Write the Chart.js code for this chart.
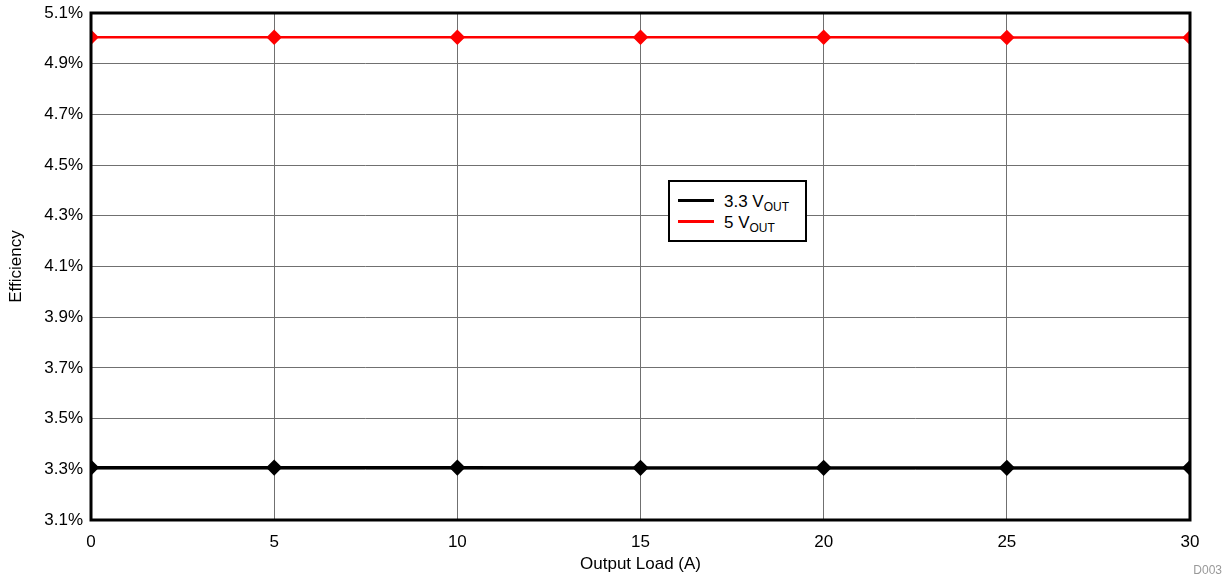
<!DOCTYPE html>
<html>
<head>
<meta charset="utf-8">
<script src="https://cdn.jsdelivr.net/npm/chart.js@4/dist/chart.umd.min.js"></script>
<style>
  body { margin: 0; background: #fff; font-family: "Liberation Sans", Arial, sans-serif; }
  #wrap { position: relative; width: 1228px; height: 580px; }
  #legend { position: absolute; left: 668px; top: 180px; width: 135px; height: 58px;
    border: 2px solid #000; background: #fff; font-size: 17px; line-height: 20px; color: #000; }
  .sw { position: absolute; left: 8px; width: 36px; height: 3px; }
  .tx { position: absolute; left: 54px; white-space: nowrap; }
  sub { font-size: 12px; vertical-align: -4px; line-height: 0; }
  #code { position: absolute; right: 6px; top: 563px; font-size: 12px; color: #999; }
</style>
</head>
<body>
<div id="wrap">
  <canvas id="chart" width="1228" height="580"></canvas>
  <div id="legend">
    <span class="sw" style="background:#000; top:17px"></span><span class="tx" style="top:10px">3.3 V<sub>OUT</sub></span>
    <span class="sw" style="background:#f00; top:38px"></span><span class="tx" style="top:31px">5 V<sub>OUT</sub></span>
  </div>
  <div id="code">D003</div>
</div>
<script>
const loads = [0, 5, 10, 15, 20, 25, 30];
const eff33 = [3.307, 3.307, 3.307, 3.306, 3.306, 3.306, 3.306];
const eff5 = [5.004, 5.004, 5.004, 5.004, 5.004, 5.003, 5.003];

const frame = {
  id: "frame",
  afterDatasetsDraw(chart) {
    const a = chart.chartArea, ctx = chart.ctx;
    ctx.save();
    ctx.strokeStyle = "#000";
    ctx.lineWidth = 3;
    ctx.strokeRect(a.left, a.top, a.right - a.left, a.bottom - a.top);
    ctx.restore();
  }
};

const font = { family: "Liberation Sans, Arial, sans-serif", size: 17 };

new Chart(document.getElementById("chart"), {
  type: "line",
  data: {
    datasets: [
      { label: "3.3 VOUT", data: loads.map((x, i) => ({ x, y: eff33[i] })),
        borderColor: "#000", backgroundColor: "#000", borderWidth: 3,
        pointStyle: "rectRot", pointRadius: 6, pointHoverRadius: 6 },
      { label: "5 VOUT", data: loads.map((x, i) => ({ x, y: eff5[i] })),
        borderColor: "#f00", backgroundColor: "#f00", borderWidth: 2.5,
        pointStyle: "rectRot", pointRadius: 6, pointHoverRadius: 6 }
    ]
  },
  options: {
    responsive: false,
    animation: false,
    layout: { padding: { top: 13, right: 38, left: 0, bottom: 0 } },
    plugins: { legend: { display: false }, tooltip: { enabled: false } },
    scales: {
      x: {
        type: "linear", min: 0, max: 30,
        ticks: { stepSize: 5, color: "#000", font, padding: 12 },
        grid: { color: "#707070", lineWidth: 1, drawTicks: false },
        border: { display: false },
        title: { display: true, text: "Output Load (A)", color: "#000", font, padding: { top: 0, bottom: 5 } },
        afterFit(s) { s.height = 60; s.paddingLeft = 0; s.paddingRight = 0; }
      },
      y: {
        min: 3.1, max: 5.1,
        ticks: { stepSize: 0.2, color: "#000", font, padding: 8,
          callback: v => v.toFixed(1) + "%" },
        grid: { color: "#707070", lineWidth: 1, drawTicks: false },
        border: { display: false },
        title: { display: true, text: "Efficiency", color: "#000", font, padding: { top: 6, bottom: 0 } },
        afterFit(s) { s.width = 91; s.paddingTop = 0; s.paddingBottom = 0; }
      }
    }
  },
  plugins: [frame]
});
</script>
</body>
</html>
